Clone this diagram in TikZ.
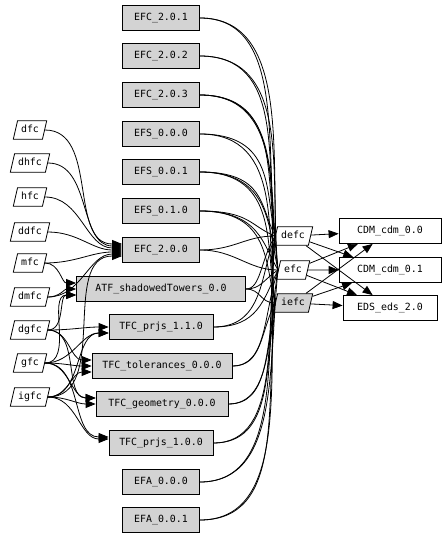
\documentclass[tikz,border=0pt]{standalone}
\usepackage{fontspec}
\setmonofont{DejaVu Sans Mono}
\usetikzlibrary{shapes.geometric,arrows.meta}
\definecolor{boxgray}{HTML}{D3D3D3}
\begin{document}
\begin{tikzpicture}[x=1pt, y=1pt, line width=0.8pt]
	\tikzstyle{Box} = [rectangle, draw, fill=boxgray, minimum height=25, inner sep=0pt, font=\ttfamily\fontsize{9.9}{12}\selectfont]
	\tikzstyle{Leaf} = [rectangle, draw, fill=white, minimum height=25, inner sep=0pt, font=\ttfamily\fontsize{9.9}{12}\selectfont]
	\tikzstyle{Param} = [trapezium, trapezium left angle=77, trapezium right angle=103, draw, fill=white, text height=7.5pt, text depth=2pt, inner xsep=3.5pt, inner ysep=4.5pt, font=\ttfamily\fontsize{9.9}{12}\selectfont]
	\tikzstyle{Use} = [-{Triangle[length=10pt, width=8pt]}]
	\useasboundingbox (0,0) rectangle (445,-537);
	% inputs
	\node (dfc) at (30,-130) [Param] {dfc};
	\node (dhfc) at (30,-163) [Param] {dhfc};
	\node (hfc) at (30,-197) [Param] {hfc};
	\node (ddfc) at (30,-232) [Param] {ddfc};
	\node (mfc) at (30,-263) [Param] {mfc};
	\node (dmfc) at (30,-297) [Param] {dmfc};
	\node (dgfc) at (30,-330) [Param] {dgfc};
	\node (gfc) at (30,-363) [Param] {gfc};
	\node (igfc) at (30,-397) [Param] {igfc};
	% packages
	\node (EFC201) at (161,-18) [Box, minimum width=77] {EFC\_2.0.1};
	\node (EFC202) at (161,-56) [Box, minimum width=77] {EFC\_2.0.2};
	\node (EFC203) at (161,-95) [Box, minimum width=77] {EFC\_2.0.3};
	\node (EFS000) at (161,-134) [Box, minimum width=77] {EFS\_0.0.0};
	\node (EFS001) at (161,-172) [Box, minimum width=77] {EFS\_0.0.1};
	\node (EFS010) at (161,-211) [Box, minimum width=77] {EFS\_0.1.0};
	\node (EFC200) at (161,-250) [Box, minimum width=77] {EFC\_2.0.0};
	\node (ATF) at (161,-289) [Box, minimum width=169] {ATF\_shadowedTowers\_0.0};
	\node (TFCp110) at (161,-327) [Box, minimum width=104] {TFC\_prjs\_1.1.0};
	\node (TFCtol) at (162,-366) [Box, minimum width=140] {TFC\_tolerances\_0.0.0};
	\node (TFCgeo) at (162,-404) [Box, minimum width=132] {TFC\_geometry\_0.0.0};
	\node (TFCp100) at (161,-443) [Box, minimum width=104] {TFC\_prjs\_1.0.0};
	\node (EFA000) at (161,-482) [Box, minimum width=77] {EFA\_0.0.0};
	\node (EFA001) at (161,-520) [Box, minimum width=77] {EFA\_0.0.1};
	% outputs
	\node (defc) at (293,-236) [Param] {defc};
	\node (efc) at (293,-270) [Param] {efc};
	\node (iefc) at (293,-303) [Param, fill=boxgray] {iefc};
	\node (CDM00) at (390,-231) [Leaf, minimum width=102] {CDM\_cdm\_0.0};
	\node (CDM01) at (390,-270) [Leaf, minimum width=102] {CDM\_cdm\_0.1};
	\node (EDS20) at (390,-308) [Leaf, minimum width=94] {EDS\_eds\_2.0};
	% inputs to packages
	\draw[Use] (dfc) to[out=0, in=180] ([yshift=6]EFC200.west);
	\draw[Use] (dhfc) to[out=0, in=180] ([yshift=4]EFC200.west);
	\draw[Use] (hfc) to[out=0, in=180] ([yshift=2]EFC200.west);
	\draw[Use] (ddfc) to[out=0, in=180] (EFC200.west);
	\draw[Use] (mfc) to[out=0, in=180] ([yshift=-2]EFC200.west);
	\draw[Use] (mfc) to[out=0, in=180] ([yshift=6]ATF.west);
	\draw[Use] (dmfc) to[out=0, in=180] ([yshift=-4]EFC200.west);
	\draw[Use] (dmfc) to[out=0, in=180] (ATF.west);
	\draw[Use] (dgfc) to[out=0, in=180] ([yshift=-6]ATF.west);
	\draw[Use] (dgfc) to[out=0, in=180] (TFCp110.west);
	\draw[Use] (dgfc) to[out=0, in=180] ([yshift=6]TFCtol.west);
	\draw[Use] (dgfc) to[out=0, in=180] ([yshift=6]TFCgeo.west);
	\draw[Use] (gfc) to[out=0, in=180] ([yshift=-6]ATF.west);
	\draw[Use] (gfc) to[out=0, in=180] ([yshift=-6]TFCp110.west);
	\draw[Use] (gfc) to[out=0, in=180] (TFCtol.west);
	\draw[Use] (gfc) to[out=0, in=180] ([yshift=6]TFCgeo.west);
	\draw[Use] (gfc) to[out=0, in=180] ([yshift=6]TFCp100.west);
	\draw[Use] (igfc) to[out=0, in=180] ([yshift=-6]EFC200.west);
	\draw[Use] (igfc) to[out=0, in=180] ([yshift=-6]TFCp110.west);
	\draw[Use] (igfc) to[out=0, in=180] ([yshift=-6]TFCtol.west);
	\draw[Use] (igfc) to[out=0, in=180] (TFCgeo.west);
	\draw[Use] (igfc) to[out=0, in=180] ([yshift=4]TFCp100.west);
	% packages to outputs
	\draw (EFC201.east) .. controls +(85,0) and +(-10,90) .. (defc.west);
	\draw (EFC201.east) .. controls +(95,0) and +(-10,100) .. (efc.west);
	\draw (EFC202.east) .. controls +(85,0) and +(-10,75) .. (defc.west);
	\draw (EFC202.east) .. controls +(95,0) and +(-10,85) .. (efc.west);
	\draw (EFC203.east) .. controls +(80,0) and +(-10,60) .. (defc.west);
	\draw (EFC203.east) .. controls +(85,0) and +(-10,70) .. (efc.west);
	\draw (EFC203.east) .. controls +(95,0) and +(-10,85) .. (iefc.west);
	\draw (EFS000.east) .. controls +(75,0) and +(-10,45) .. (defc.west);
	\draw (EFS000.east) .. controls +(85,0) and +(-10,65) .. (iefc.west);
	\draw (EFS001.east) .. controls +(65,0) and +(-15,30) .. (defc.west);
	\draw (EFS001.east) .. controls +(70,0) and +(-10,45) .. (efc.west);
	\draw (EFS001.east) .. controls +(80,0) and +(-10,55) .. (iefc.west);
	\draw (EFS010.east) .. controls +(50,0) and +(-25,10) .. (defc.west);
	\draw (EFS010.east) .. controls +(60,0) and +(-15,25) .. (efc.west);
	\draw (EFS010.east) .. controls +(70,0) and +(-10,40) .. (iefc.west);
	\draw (EFC200.east) .. controls +(35,0) and +(-30,0) .. (defc.west);
	\draw (EFC200.east) .. controls +(35,0) and +(-30,0) .. (efc.west);
	\draw (ATF.east) .. controls +(15,0) and +(-15,-25) .. (defc.west);
	\draw (ATF.east) .. controls +(15,0) and +(-15,-10) .. (efc.west);
	\draw (ATF.east) .. controls +(15,0) and +(-15,0) .. (iefc.west);
	\draw (TFCp110.east) .. controls +(50,0) and +(-15,-40) .. (defc.west);
	\draw (TFCp110.east) .. controls +(45,0) and +(-15,-30) .. (efc.west);
	\draw (TFCtol.east) .. controls +(35,0) and +(-15,-45) .. (efc.west);
	\draw (TFCtol.east) .. controls +(30,0) and +(-15,-30) .. (iefc.west);
	\draw (TFCgeo.east) .. controls +(45,0) and +(-10,-60) .. (efc.west);
	\draw (TFCgeo.east) .. controls +(40,0) and +(-10,-50) .. (iefc.west);
	\draw (TFCp100.east) .. controls +(70,0) and +(-10,-90) .. (defc.west);
	\draw (TFCp100.east) .. controls +(60,0) and +(-10,-65) .. (iefc.west);
	\draw (EFA000.east) .. controls +(85,0) and +(-10,-110) .. (defc.west);
	\draw (EFA000.east) .. controls +(80,0) and +(-10,-95) .. (efc.west);
	\draw (EFA001.east) .. controls +(95,0) and +(-10,-125) .. (defc.west);
	\draw (EFA001.east) .. controls +(85,0) and +(-10,-105) .. (iefc.west);
	% outputs to results
	\draw[Use] (defc) -- (CDM00);
	\draw[Use] (defc) -- (CDM01);
	\draw[Use] (defc) -- (EDS20);
	\draw[Use] (efc) -- (CDM00);
	\draw[Use] (efc) -- (CDM01);
	\draw[Use] (efc) -- (EDS20);
	\draw[Use] (iefc) -- (CDM00);
	\draw[Use] (iefc) -- (CDM01);
	\draw[Use] (iefc) -- (EDS20);
\end{tikzpicture}
\end{document}
